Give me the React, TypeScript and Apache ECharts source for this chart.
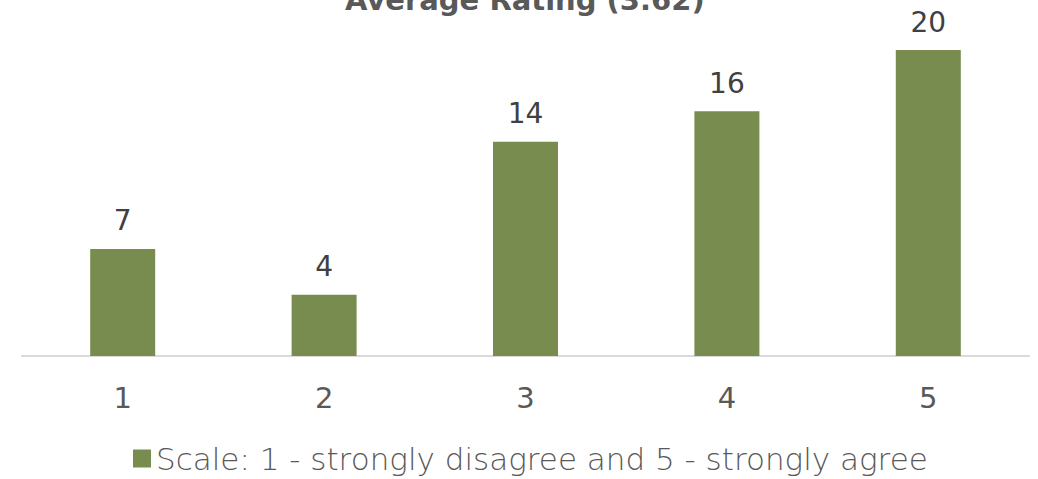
import React, { useEffect, useRef } from "react";
import * as echarts from "echarts";

const categories = ["1", "2", "3", "4", "5"];
const counts = [7, 4, 14, 16, 20];
const seriesName = "Scale: 1 - strongly disagree and 5 - strongly agree";
const titleText = "Average Rating (3.62)";

const FONT = "'DejaVu Sans', sans-serif";

export default function App() {
  const ref = useRef<HTMLDivElement>(null);
  useEffect(() => {
    if (!ref.current) return;
    const chart = echarts.init(ref.current, undefined, { renderer: "svg" });
    chart.setOption({
      animation: false,
      title: {
        text: titleText,
        left: 340,
        top: -20,
        textStyle: { fontFamily: FONT, fontSize: 29, fontWeight: "bold", color: "#595959" },
      },
      grid: { left: 22, right: 9, top: 50, height: 306, containLabel: false },
      legend: {
        data: [seriesName],
        bottom: 0,
        left: 128,
        itemWidth: 18,
        itemHeight: 18,
        itemGap: 7,
        icon: "rect",
        textStyle: { fontFamily: FONT, fontSize: 31, color: "#595959", fontWeight: 300 },
      },
      xAxis: {
        type: "category",
        data: categories,
        axisLine: { lineStyle: { color: "#d9d9d9", width: 2 } },
        axisTick: { show: false },
        axisLabel: { fontFamily: FONT, fontSize: 29, color: "#595959", margin: 27 },
      },
      yAxis: {
        type: "value",
        min: 0,
        max: 20,
        show: false,
        splitLine: { show: false },
      },
      series: [
        {
          name: seriesName,
          type: "bar",
          data: counts,
          barWidth: 65,
          itemStyle: { color: "#778c4e" },
          label: {
            show: true,
            position: "top",
            distance: 14,
            fontFamily: FONT,
            fontSize: 28,
            color: "#404040",
          },
        },
      ],
    });
    return () => chart.dispose();
  }, []);
  return (
    <div
      ref={ref}
      style={{ position: "absolute", left: 0, top: 0, width: 1038, height: 479 }}
    />
  );
}
